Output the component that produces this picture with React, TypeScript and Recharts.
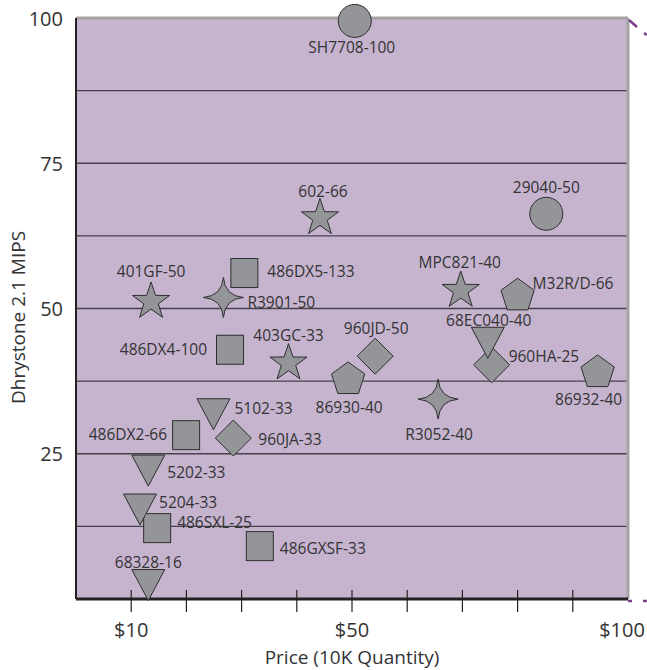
import {
    ScatterChart,
    Scatter,
    XAxis,
    YAxis,
    CartesianGrid,
    ReferenceLine,
    Label,
} from "recharts";

// each marker family gets its own list; price in $ (10K qty), mips = Dhrystone 2.1
const circles = [
    { name: "SH7708-100", price: 50.5, mips: 99.5 },
    { name: "29040-50", price: 85.2, mips: 66.3 },
];

const squares = [
    { name: "486DX5-133", price: 30.5, mips: 56.1 },
    { name: "486DX4-100", price: 27.9, mips: 42.9 },
    { name: "486DX2-66", price: 19.95, mips: 28.2 },
    { name: "486SXL-25", price: 14.7, mips: 12.2 },
    { name: "486GXSF-33", price: 33.3, mips: 9.1 },
];

const stars = [
    { name: "602-66", price: 44.2, mips: 65.6 },
    { name: "401GF-50", price: 13.6, mips: 51.2 },
    { name: "MPC821-40", price: 69.7, mips: 53.1 },
    { name: "403GC-33", price: 38.5, mips: 40.6 },
];

const fourStars = [
    { name: "R3901-50", price: 26.7, mips: 51.9 },
    { name: "R3052-40", price: 65.6, mips: 34.4 },
];

const diamonds = [
    { name: "960HA-25", price: 75.3, mips: 40.3 },
    { name: "960JD-50", price: 54.2, mips: 41.8 },
    { name: "960JA-33", price: 28.5, mips: 27.7 },
];

const pentagons = [
    { name: "M32R/D-66", price: 80.0, mips: 52.2 },
    { name: "86932-40", price: 94.5, mips: 39.0 },
    { name: "86930-40", price: 49.3, mips: 37.8 },
];

const triangles = [
    { name: "68EC040-40", price: 74.6, mips: 44.1 },
    { name: "5102-33", price: 24.9, mips: 31.8 },
    { name: "5202-33", price: 13.1, mips: 22.1 },
    { name: "5204-33", price: 11.6, mips: 15.4 },
    { name: "68328-16", price: 13.1, mips: 2.4 },
];

const xTicks = [10, 20, 30, 40, 50, 60, 70, 80, 90, 100];
const xLabels: Record<number, string> = { 10: "$10", 50: "$50", 100: "$100" };
const yTicks = [0, 12.5, 25, 37.5, 50, 62.5, 75, 87.5, 100];
const yLabels = [25, 50, 75, 100];

const allPoints = [
    ...circles,
    ...squares,
    ...stars,
    ...fourStars,
    ...diamonds,
    ...pentagons,
    ...triangles,
];

// where each name sits relative to its marker
const labelPlacement: Record<string, ["start" | "middle" | "end", number, number]> = {
    "SH7708-100": ["middle", -3, 26],
    "29040-50": ["middle", 0, -27],
    "602-66": ["middle", 3, -27],
    "401GF-50": ["middle", 0, -31],
    "MPC821-40": ["middle", -1, -28],
    "403GC-33": ["middle", 0, -28],
    "68EC040-40": ["middle", 1, -23],
    "960JD-50": ["middle", 1, -28],
    "68328-16": ["middle", 0, -23],
    "86930-40": ["middle", 1, 28],
    "86932-40": ["middle", -9, 27],
    "R3052-40": ["middle", 1, 35],
    "486DX5-133": ["start", 23, -2],
    "R3901-50": ["start", 24, 5],
    "M32R/D-66": ["start", 15, -13],
    "960HA-25": ["start", 17, -9],
    "5102-33": ["start", 21, -6],
    "960JA-33": ["start", 25, 1],
    "5202-33": ["start", 19, 1],
    "5204-33": ["start", 19, -8],
    "486SXL-25": ["start", 20, -6],
    "486GXSF-33": ["start", 20, 2],
    "486DX4-100": ["end", -23, -1],
    "486DX2-66": ["end", -19, -1],
};

const FILL = "#939598";
const EDGE = "#2e2e2e";
const FONT = "'Open Sans', sans-serif";
const TEXT = "#333333";

const polyPoints = (pts: number[][]) => pts.map((p) => p.join(",")).join(" ");

function starPoints(cx: number, cy: number, n: number, outer: number, inner: number) {
    const pts: number[][] = [];
    for (let i = 0; i < n * 2; i++) {
        const r = i % 2 === 0 ? outer : inner;
        const a = -Math.PI / 2 + (i * Math.PI) / n;
        pts.push([cx + r * Math.cos(a), cy + r * Math.sin(a)]);
    }
    return polyPoints(pts);
}

const CircleMark = ({ cx, cy }: any) => (
    <circle cx={cx} cy={cy} r={16.5} fill={FILL} stroke={EDGE} strokeWidth={1} />
);

const SquareMark = ({ cx, cy }: any) => (
    <rect x={cx - 13.5} y={cy - 14.5} width={27} height={29} fill={FILL} stroke={EDGE} strokeWidth={1} />
);

const StarMark = ({ cx, cy }: any) => (
    <polygon points={starPoints(cx, cy, 5, 19.5, 7.6)} fill={FILL} stroke={EDGE} strokeWidth={1} />
);

// four-pointed star with concave flanks
const FourStarMark = ({ cx, cy }: any) => {
    const R = 20;
    const k = 1.5;
    const d = [
        `M${cx},${cy - R}`,
        `Q${cx + k},${cy - k} ${cx + R},${cy}`,
        `Q${cx + k},${cy + k} ${cx},${cy + R}`,
        `Q${cx - k},${cy + k} ${cx - R},${cy}`,
        `Q${cx - k},${cy - k} ${cx},${cy - R}`,
        "Z",
    ].join(" ");
    return <path d={d} fill={FILL} stroke={EDGE} strokeWidth={1} />;
};

const DiamondMark = ({ cx, cy }: any) => (
    <polygon
        points={polyPoints([
            [cx, cy - 18],
            [cx + 18, cy],
            [cx, cy + 18],
            [cx - 18, cy],
        ])}
        fill={FILL}
        stroke={EDGE}
        strokeWidth={1}
    />
);

const PentagonMark = ({ cx, cy }: any) => (
    <polygon points={starPoints(cx, cy, 5, 17.5, 17.5 * Math.cos(Math.PI / 5))} fill={FILL} stroke={EDGE} strokeWidth={1} />
);

const TriangleMark = ({ cx, cy }: any) => (
    <polygon
        points={polyPoints([
            [cx - 16.5, cy - 15.5],
            [cx + 16.5, cy - 15.5],
            [cx, cy + 15.5],
        ])}
        fill={FILL}
        stroke={EDGE}
        strokeWidth={1}
    />
);

const NameLabel = ({ cx, cy, payload }: any) => {
    const [anchor, dx, dy] = labelPlacement[payload.name] ?? ["middle", 0, -26];
    return (
        <text
            x={cx + dx}
            y={cy + dy}
            textAnchor={anchor}
            dominantBaseline="central"
            fontFamily={FONT}
            fontSize={15.5}
            fill={TEXT}
        >
            {payload.name}
        </text>
    );
};

const XTick = ({ x, y, payload }: any) => {
    const v = payload.value;
    const text = xLabels[v];
    return (
        <g>
            {v < 100 && <line x1={x} x2={x} y1={y - 9} y2={y + 13} stroke="#222" strokeWidth={1.2} />}
            {text && (
                <text x={v === 100 ? x - 6 : x} y={y + 38} textAnchor="middle" fontFamily={FONT} fontSize={20} fill={TEXT}>
                    {text}
                </text>
            )}
        </g>
    );
};

const YTick = ({ x, y, payload }: any) => {
    if (!yLabels.includes(payload.value)) return <g />;
    return (
        <text x={x} y={y} textAnchor="end" dominantBaseline="central" fontFamily={FONT} fontSize={20} fill={TEXT}>
            {payload.value}
        </text>
    );
};

export default function App() {
    return (
        <div style={{ position: "absolute", left: 0, top: 0, width: 647, height: 670, background: "#ffffff" }}>
            <ScatterChart width={647} height={670} margin={{ top: 18, right: 19, bottom: 0, left: 0 }}>
                <CartesianGrid vertical={false} fill="#c6b4cf" stroke="#464048" strokeWidth={1.3} />
                <XAxis
                    type="number"
                    dataKey="price"
                    domain={[0, 100]}
                    ticks={xTicks}
                    interval={0}
                    height={71}
                    tickSize={0}
                    tickMargin={0}
                    tickLine={false}
                    tick={<XTick />}
                    axisLine={{ stroke: "#222", strokeWidth: 3 }}
                >
                    <Label
                        content={({ viewBox }: any) => (
                            <text
                                x={viewBox.x + viewBox.width / 2}
                                y={viewBox.y + 65}
                                textAnchor="middle"
                                fontFamily={FONT}
                                fontSize={19}
                                fill={TEXT}
                            >
                                Price (10K Quantity)
                            </text>
                        )}
                    />
                </XAxis>
                <YAxis
                    type="number"
                    dataKey="mips"
                    domain={[0, 100]}
                    ticks={yTicks}
                    interval={0}
                    width={76}
                    tickSize={0}
                    tickMargin={13}
                    tickLine={false}
                    tick={<YTick />}
                    axisLine={{ stroke: "#222", strokeWidth: 2 }}
                >
                    <Label
                        content={({ viewBox }: any) => {
                            const cx = viewBox.x + 18;
                            const cy = viewBox.y + viewBox.height / 2 + 9;
                            return (
                                <text
                                    x={cx}
                                    y={cy}
                                    transform={`rotate(-90 ${cx} ${cy})`}
                                    textAnchor="middle"
                                    dominantBaseline="central"
                                    fontFamily={FONT}
                                    fontSize={19}
                                    fill={TEXT}
                                >
                                    Dhrystone 2.1 MIPS
                                </text>
                            );
                        }}
                    />
                </YAxis>
                <ReferenceLine y={100} stroke="#a4a4a6" strokeWidth={3} />
                <ReferenceLine x={100} stroke="#a4a4a6" strokeWidth={3} />

                <Scatter data={circles} shape={<CircleMark />} isAnimationActive={false} />
                <Scatter data={squares} shape={<SquareMark />} isAnimationActive={false} />
                <Scatter data={stars} shape={<StarMark />} isAnimationActive={false} />
                <Scatter data={fourStars} shape={<FourStarMark />} isAnimationActive={false} />
                <Scatter data={diamonds} shape={<DiamondMark />} isAnimationActive={false} />
                <Scatter data={pentagons} shape={<PentagonMark />} isAnimationActive={false} />
                <Scatter data={triangles} shape={<TriangleMark />} isAnimationActive={false} />
                <Scatter data={allPoints} shape={<NameLabel />} isAnimationActive={false} />
            </ScatterChart>
            {/* stray purple crop marks at the right edge of the original */}
            <svg width={647} height={670} style={{ position: "absolute", left: 0, top: 0, pointerEvents: "none" }}>
                <line x1={629} y1={20} x2={637} y2={27} stroke="#7b3f8c" strokeWidth={2.5} />
                <line x1={644} y1={33} x2={647} y2={35} stroke="#7b3f8c" strokeWidth={2.5} />
                <line x1={628} y1={601} x2={632} y2={601} stroke="#7b3f8c" strokeWidth={2.5} />
                <line x1={643} y1={601} x2={647} y2={601} stroke="#7b3f8c" strokeWidth={2.5} />
            </svg>
        </div>
    );
}
